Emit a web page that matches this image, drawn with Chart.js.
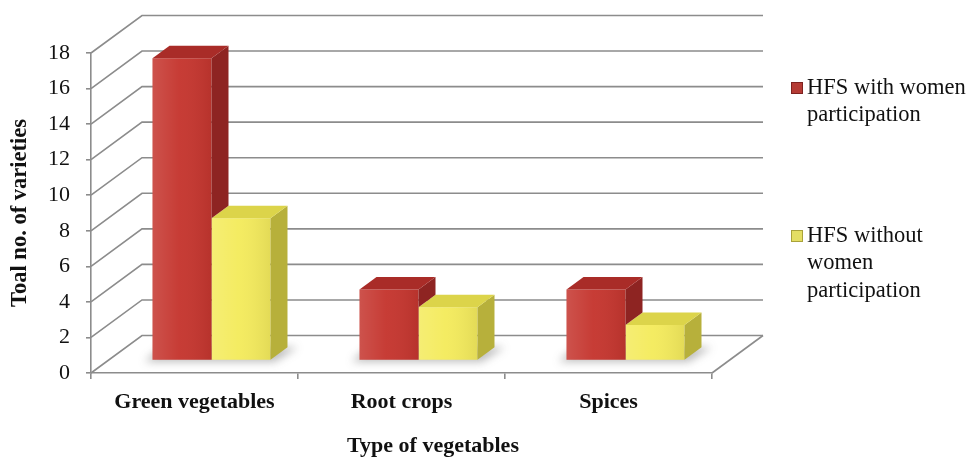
<!DOCTYPE html>
<html>
<head>
<meta charset="utf-8">
<script src="https://cdn.jsdelivr.net/npm/chart.js"></script>
<style>
  html, body { margin: 0; padding: 0; background: #fff; }
  #wrap { width: 971px; height: 457px; }
</style>
</head>
<body>
<div id="wrap"><canvas id="chart"></canvas></div>
<script>
const categories = ['Green vegetables', 'Root crops', 'Spices'];
const withWomen = [17, 4, 4];
const withoutWomen = [8, 3, 2];
const seriesLabels = [
  ['HFS with women', 'participation'],
  ['HFS without', 'women', 'participation']
];
const yMax = 18;
const yStep = 2;

// floor depth, bars stand in the middle third of it
const DEPTH = { x: 51, y: -37.5 };
const SHIFT = { x: DEPTH.x / 3, y: DEPTH.y / 3 };
const BAR_DEPTH = { x: DEPTH.x / 3, y: DEPTH.y / 3 };

const GRID = '#8c8c8c';
const SERIF = '"Liberation Serif", "DejaVu Serif", serif';

const faces = [
  { front: '#c5362f', side: '#8e2422', top: '#a92c28', key: '#b53b35', keyEdge: '#7e2220' },
  { front: '#f4eb5d', side: '#b7b03b', top: '#dcd44a', key: '#e4de63', keyEdge: '#a9a23a' }
];

function barBox(bar) {
  const { x, y, base, width } = bar.getProps(['x', 'y', 'base', 'width'], true);
  return { l: x - width / 2, r: x + width / 2, y, base };
}

// outline of a whole bar (front, top and side) in projection
function outline(ctx, b) {
  ctx.moveTo(b.l, b.base);
  ctx.lineTo(b.l, b.y);
  ctx.lineTo(b.l + BAR_DEPTH.x, b.y + BAR_DEPTH.y);
  ctx.lineTo(b.r + BAR_DEPTH.x, b.y + BAR_DEPTH.y);
  ctx.lineTo(b.r + BAR_DEPTH.x, b.base + BAR_DEPTH.y);
  ctx.lineTo(b.r, b.base);
  ctx.closePath();
}

const box3d = {
  id: 'box3d',
  beforeDatasetsDraw(chart) {
    const { ctx, chartArea: a, scales: { y } } = chart;
    ctx.save();
    ctx.strokeStyle = GRID;
    ctx.lineWidth = 1.6;
    y.ticks.forEach(t => {
      const py = y.getPixelForValue(t.value);
      ctx.beginPath();
      ctx.moveTo(a.left, py);
      ctx.lineTo(a.left + DEPTH.x, py + DEPTH.y);
      ctx.lineTo(a.right + DEPTH.x, py + DEPTH.y);
      ctx.stroke();
    });
    ctx.beginPath();
    ctx.moveTo(a.right, a.bottom);
    ctx.lineTo(a.right + DEPTH.x, a.bottom + DEPTH.y);
    ctx.stroke();

    // soft shadow on the floor under each pair of bars
    const m0 = chart.getDatasetMeta(0).data;
    const m1 = chart.getDatasetMeta(1).data;
    ctx.translate(SHIFT.x, SHIFT.y);
    ctx.filter = 'blur(4px)';
    ctx.fillStyle = 'rgba(60,60,60,0.35)';
    m0.forEach((bar, i) => {
      const b0 = barBox(bar), b1 = barBox(m1[i]);
      const l = b0.l - 8, r = b1.r + 4, base = b0.base;
      ctx.beginPath();
      ctx.moveTo(l, base + 2);
      ctx.lineTo(r, base + 2);
      ctx.lineTo(r + BAR_DEPTH.x + 6, base + BAR_DEPTH.y);
      ctx.lineTo(l + BAR_DEPTH.x, base + BAR_DEPTH.y);
      ctx.closePath();
      ctx.fill();
    });
    ctx.restore();
  },
  beforeDatasetDraw(chart) {
    chart.ctx.save();
    chart.ctx.translate(SHIFT.x, SHIFT.y);
  },
  afterDatasetDraw(chart, args) {
    const ctx = chart.ctx;
    const f = faces[args.index];
    const n = chart.data.datasets.length;
    args.meta.data.forEach((bar, i) => {
      const b = barBox(bar);
      // shading across the front face
      const g = ctx.createLinearGradient(b.l, 0, b.r, 0);
      g.addColorStop(0, 'rgba(255,255,255,0.14)');
      g.addColorStop(0.45, 'rgba(255,255,255,0.03)');
      g.addColorStop(1, 'rgba(0,0,0,0.07)');
      ctx.fillStyle = g;
      ctx.fillRect(b.l, b.y, b.r - b.l, b.base - b.y);

      // bars to the right of this one hide its side face
      ctx.save();
      ctx.beginPath();
      ctx.rect(-2000, -2000, 5000, 5000);
      for (let k = args.index + 1; k < n; k++) outline(ctx, barBox(chart.getDatasetMeta(k).data[i]));
      ctx.clip('evenodd');
      ctx.fillStyle = f.side;
      ctx.beginPath();
      ctx.moveTo(b.r, b.y);
      ctx.lineTo(b.r + BAR_DEPTH.x, b.y + BAR_DEPTH.y);
      ctx.lineTo(b.r + BAR_DEPTH.x, b.base + BAR_DEPTH.y);
      ctx.lineTo(b.r, b.base);
      ctx.closePath();
      ctx.fill();
      ctx.restore();

      // top face
      ctx.fillStyle = f.top;
      ctx.beginPath();
      ctx.moveTo(b.l, b.y);
      ctx.lineTo(b.r, b.y);
      ctx.lineTo(b.r + BAR_DEPTH.x, b.y + BAR_DEPTH.y);
      ctx.lineTo(b.l + BAR_DEPTH.x, b.y + BAR_DEPTH.y);
      ctx.closePath();
      ctx.fill();
    });
    ctx.restore();
  },
  afterDraw(chart) {
    const ctx = chart.ctx;
    ctx.save();
    ctx.fillStyle = '#111';
    ctx.textAlign = 'center';
    ctx.textBaseline = 'middle';
    ctx.font = 'bold 22px ' + SERIF;
    ctx.fillText('Type of vegetables', 433, 446);

    // legend
    ctx.textAlign = 'left';
    ctx.font = '22.5px ' + SERIF;
    const starts = [88, 236];
    const lineH = 27.5;
    seriesLabels.forEach((lines, i) => {
      const f = faces[i];
      const cy = starts[i];
      ctx.fillStyle = f.key;
      ctx.fillRect(791, cy - 6, 12, 12);
      ctx.strokeStyle = f.keyEdge;
      ctx.lineWidth = 1;
      ctx.strokeRect(791.5, cy - 5.5, 11, 11);
      ctx.fillStyle = '#111';
      lines.forEach((t, k) => ctx.fillText(t, 807, cy + k * lineH));
    });
    ctx.restore();
  }
};

new Chart(document.getElementById('chart'), {
  type: 'bar',
  data: {
    labels: categories,
    datasets: [
      { label: seriesLabels[0].join(' '), data: withWomen, backgroundColor: faces[0].front },
      { label: seriesLabels[1].join(' '), data: withoutWomen, backgroundColor: faces[1].front }
    ]
  },
  options: {
    responsive: true,
    maintainAspectRatio: false,
    animation: false,
    devicePixelRatio: 1,
    layout: { padding: { top: 53, right: 259, bottom: 0, left: 0 } },
    datasets: { bar: { categoryPercentage: 0.57, barPercentage: 1, borderWidth: 0, clip: false } },
    plugins: { legend: { display: false }, tooltip: { enabled: false } },
    scales: {
      x: {
        grid: { drawOnChartArea: false, color: GRID, lineWidth: 1.6, tickLength: 6 },
        border: { color: GRID, width: 1.6 },
        ticks: { color: '#111', padding: 10, maxRotation: 0, font: { family: SERIF, size: 22, weight: 'bold' } },
        afterFit(scale) { scale.height = 84; }
      },
      y: {
        min: 0,
        max: yMax,
        grid: { drawOnChartArea: false, color: GRID, lineWidth: 1.6, tickLength: 5 },
        border: { color: GRID, width: 1.6 },
        ticks: { stepSize: yStep, color: '#111', padding: 16, font: { family: SERIF, size: 22 } },
        title: {
          display: true,
          text: 'Toal no. of varieties',
          color: '#111',
          padding: { top: 7, bottom: 0 },
          font: { family: SERIF, size: 22.5, weight: 'bold' }
        },
        afterFit(scale) { scale.width = 91; }
      }
    }
  },
  plugins: [box3d]
});
</script>
</body>
</html>
